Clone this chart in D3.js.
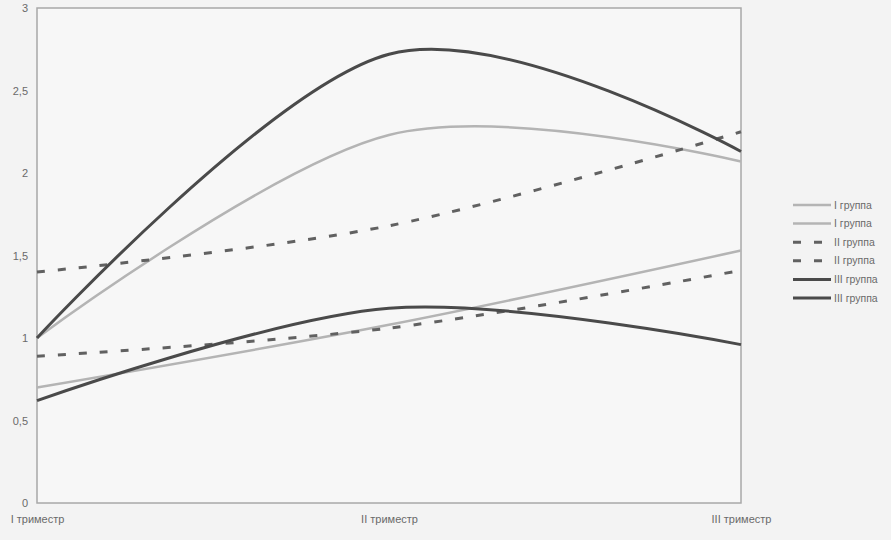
<!DOCTYPE html>
<html><head><meta charset="utf-8">
<script src="https://cdn.jsdelivr.net/npm/d3@7"></script>
<style>
html,body{margin:0;padding:0;background:#f3f3f3;}
svg{display:block;font-family:"Liberation Sans",Arial,sans-serif;}
</style></head>
<body>
<svg id="chart" width="891" height="540"></svg>
<script>
const categories = ["I триместр", "II триместр", "III триместр"];
const yTicks = [0, 0.5, 1, 1.5, 2, 2.5, 3];
const seriesNames = ["I группа", "I группа", "II группа", "II группа", "III группа", "III группа"];
const g1a = [1.0, 2.23, 2.07];
const g1b = [0.70, 1.08, 1.53];
const g2a = [1.40, 1.68, 2.25];
const g2b = [0.89, 1.06, 1.41];
const g3a = [1.0, 2.72, 2.13];
const g3b = [0.62, 1.18, 0.96];
const seriesValues = [g1a, g1b, g2a, g2b, g3a, g3b];
const seriesStyle = [
  {color:"#b4b4b4", width:2.5, dash:null},
  {color:"#b4b4b4", width:2.5, dash:null},
  {color:"#616161", width:3, dash:"8,13"},
  {color:"#616161", width:3, dash:"8,13"},
  {color:"#4a4a4a", width:3, dash:null},
  {color:"#4a4a4a", width:3, dash:null}
];

const svg = d3.select("#chart");
const L = 37, R = 741, T = 8, B = 503;
const x = d3.scalePoint().domain(categories).range([L, R]);
const y = d3.scaleLinear().domain([0, 3]).range([B, T]);

// plot frame
svg.append("rect").attr("x", L).attr("y", T).attr("width", R - L).attr("height", B - T)
  .attr("fill", "#f7f7f7").attr("stroke", "#a8a8a8").attr("stroke-width", 1.5);

// y axis labels
const yAxis = d3.axisLeft(y).tickValues(yTicks).tickSize(0).tickPadding(9)
  .tickFormat(d => String(d).replace(".", ","));
const ya = svg.append("g").attr("transform", `translate(${L},0)`).call(yAxis);
ya.select(".domain").remove();
ya.selectAll("text").attr("fill", "#6a6a6a").attr("font-size", 11);

// x axis labels
const xAxis = d3.axisBottom(x).tickSize(0).tickPadding(12);
const xa = svg.append("g").attr("transform", `translate(0,${B})`).call(xAxis);
xa.select(".domain").remove();
xa.selectAll("text").attr("fill", "#6a6a6a").attr("font-size", 11);

// lines
const line = d3.line().x((d, i) => x(categories[i])).y(d => y(d)).curve(d3.curveCardinal.tension(0));
seriesValues.forEach((vals, i) => {
  const s = seriesStyle[i];
  svg.append("path").datum(vals).attr("d", line).attr("fill", "none")
    .attr("stroke", s.color).attr("stroke-width", s.width)
    .attr("stroke-dasharray", s.dash).attr("stroke-linecap", "butt");
});

// legend
const lg = svg.append("g");
seriesNames.forEach((name, i) => {
  const s = seriesStyle[i];
  const yy = 205 + i * 18.6;
  lg.append("line").attr("x1", 793).attr("x2", 831).attr("y1", yy).attr("y2", yy)
    .attr("stroke", s.color).attr("stroke-width", s.width).attr("stroke-dasharray", s.dash);
  lg.append("text").attr("x", 834).attr("y", yy).attr("dy", "0.35em")
    .attr("font-size", 10.5).attr("fill", "#6a6a6a").text(name);
});
</script>
</body></html>
